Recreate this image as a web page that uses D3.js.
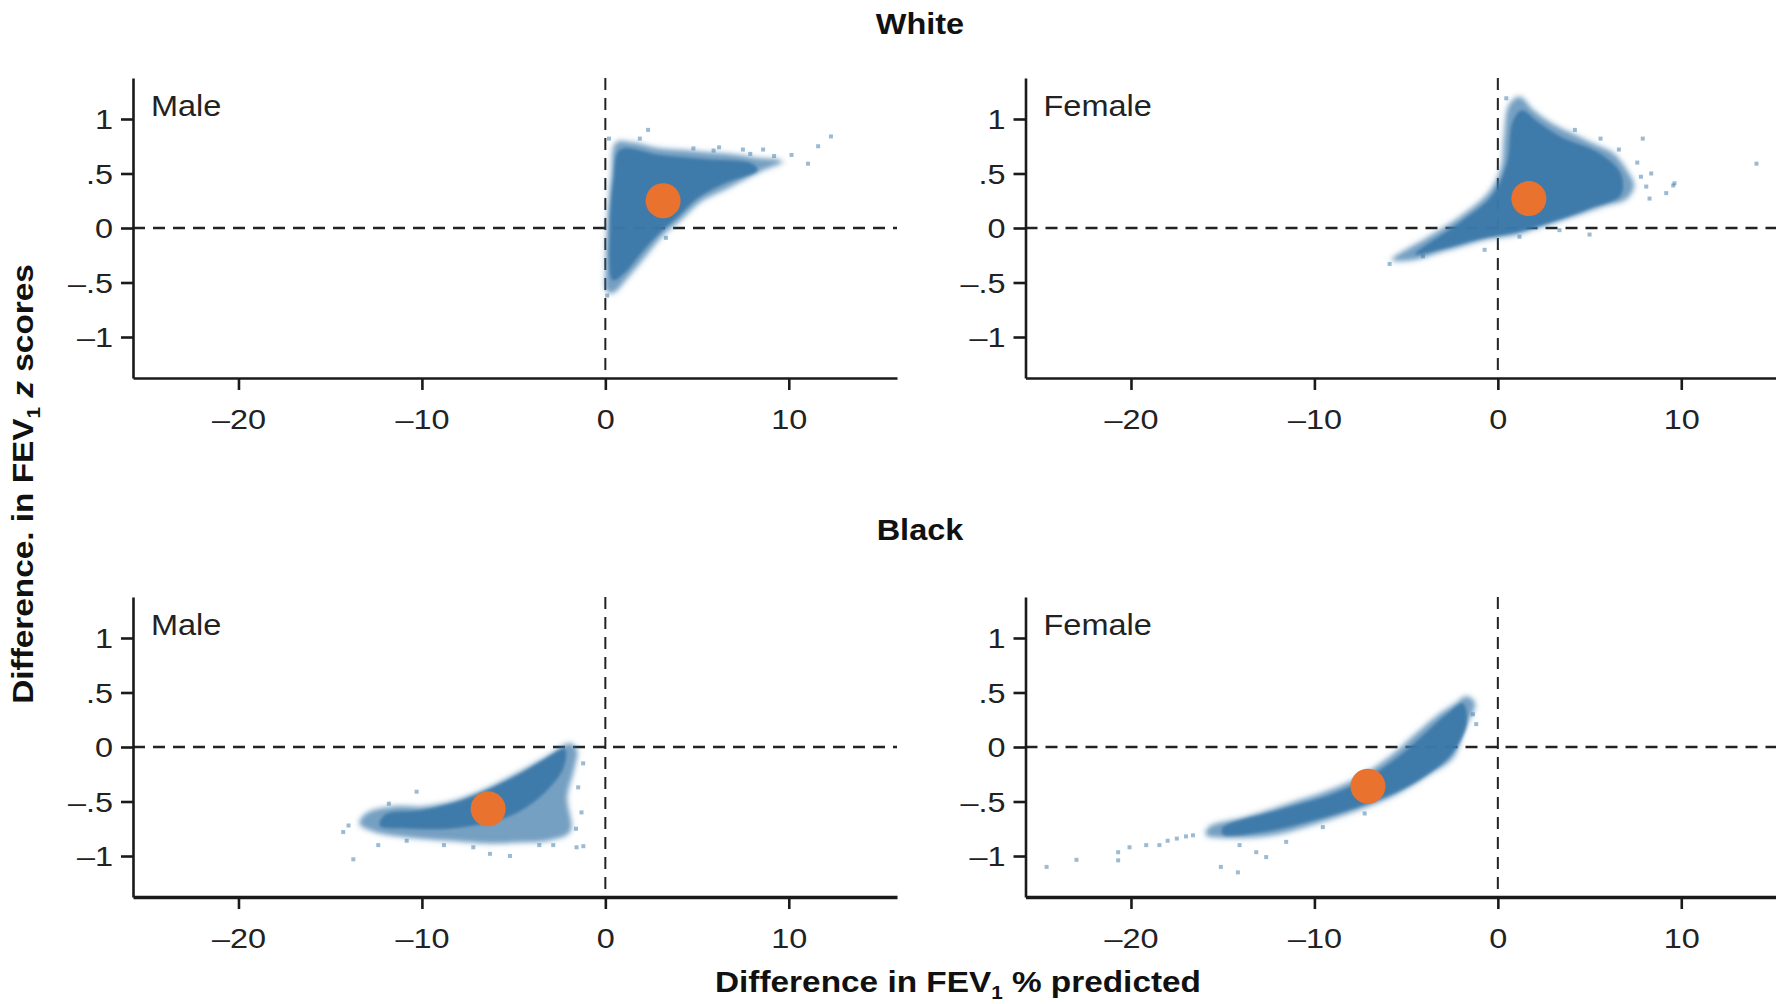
<!DOCTYPE html>
<html>
<head>
<meta charset="utf-8">
<script src="https://cdn.jsdelivr.net/npm/d3@7"></script>
<style>
  body { margin: 0; background: #fff; }
  svg { display: block; font-family: "Liberation Sans", Arial, sans-serif; }
  .axis path, .axis line { stroke: #1a1a1a; stroke-width: 2.6; }
  .axis.bottom-row path { stroke-width: 3.4; }
  .axis text { font-size: 27px; fill: #222; }
  .heading { font-size: 29px; font-weight: bold; fill: #111; }
  .panel-label { font-size: 29px; fill: #222; }
  .axis-label { font-size: 29px; font-weight: bold; fill: #111; }
</style>
</head>
<body>
<svg width="1776" height="1004"></svg>
<script>
// ---- data ----
const groups = ['White', 'Black'];
const sexes = ['Male', 'Female'];
const xTicks = [-20, -10, 0, 10];
const xTickLabels = ['\u201320', '\u201310', '0', '10'];
const yTicks = [-1, -0.5, 0, 0.5, 1];
const yTickLabels = ['\u20131', '\u2013.5', '0', '.5', '1'];

// mean difference (x = % predicted, y = z score)
const meanWhiteMale = [3.15, 0.25];
const meanWhiteFemale = [1.69, 0.27];
const meanBlackMale = [-6.39, -0.567];
const meanBlackFemale = [-7.08, -0.36];

// outline of each cloud
const hullWhiteMale = [[0.6,0.78],[1.5,0.78],[2.8,0.73],[4.2,0.71],[5.5,0.69],[7,0.67],[8.2,0.64],[9.6,0.61],
  [8.4,0.52],[6.8,0.38],[5.15,0.24],[4.06,0.07],[3.15,-0.06],[2.06,-0.28],[1.16,-0.46],[0.43,-0.59],[0.1,-0.58],
  [0.05,-0.34],[0.12,0.03],[0.35,0.49]];
const hullWhiteFemale = [[-5.72,-0.29],[-3.72,-0.08],[-1.9,0.12],[-0.45,0.33],[0.19,0.55],[0.37,0.85],[0.64,1.13],
  [1.18,1.2],[1.91,1.08],[3.0,0.95],[4.09,0.86],[5.19,0.77],[6.28,0.68],[7.0,0.53],[7.4,0.39],[7.0,0.27],
  [5.9,0.21],[4.82,0.15],[3.18,0.058],[2.09,0.0],[0.82,-0.064],[-0.45,-0.095],[-1.9,-0.16],[-3.18,-0.22],[-4.63,-0.29]];
const hullBlackMale = [[-1.93,0.03],[-3.2,-0.094],[-4.84,-0.246],[-6.47,-0.384],[-8.1,-0.49],[-9.93,-0.55],
  [-11.56,-0.55],[-13.0,-0.61],[-13.38,-0.70],[-12.65,-0.77],[-10.47,-0.83],[-8.1,-0.86],[-6.3,-0.88],
  [-4.48,-0.87],[-3.02,-0.85],[-1.93,-0.77],[-2.11,-0.46],[-1.75,-0.216],[-1.57,-0.03]];
const hullBlackFemale = [[-15.9,-0.80],[-15.72,-0.736],[-13.71,-0.644],[-11.35,-0.52],[-9.18,-0.40],[-7.55,-0.277],
  [-5.9,-0.094],[-4.45,0.12],[-3.18,0.30],[-2.27,0.40],[-1.72,0.46],[-1.27,0.40],[-1.9,0.15],[-2.45,-0.094],
  [-3.73,-0.246],[-5.54,-0.43],[-7.72,-0.58],[-9.9,-0.70],[-12.08,-0.80],[-14.26,-0.83]];

// densest core of each cloud
const coreWhiteMale = [[0.8,0.72],[3,0.67],[5.5,0.63],[8,0.59],[8.3,0.53],[6.5,0.41],[5,0.27],[4,0.11],[3,-0.04],
  [2,-0.22],[1,-0.42],[0.4,-0.48],[0.25,0],[0.45,0.45]];
const coreWhiteFemale = [[-4.5,-0.24],[-2,0.06],[-0.3,0.3],[0.5,0.6],[0.8,0.97],[1.3,1.08],[2.2,0.97],[3.5,0.83],
  [5.5,0.69],[6.7,0.5],[6.7,0.3],[5,0.18],[3,0.06],[1,-0.04],[-1,-0.1],[-3,-0.19]];
const coreBlackMale = [[-12,-0.62],[-10,-0.58],[-8,-0.5],[-6.5,-0.4],[-4.8,-0.26],[-3.2,-0.1],[-2.2,-0.02],
  [-2.3,-0.2],[-3.5,-0.45],[-5,-0.62],[-6.5,-0.7],[-8.5,-0.75],[-10.5,-0.75],[-12.3,-0.72]];
const coreBlackFemale = [[-15,-0.74],[-12,-0.58],[-9,-0.43],[-7.3,-0.3],[-5.5,-0.1],[-4,0.12],[-2.8,0.3],
  [-1.9,0.4],[-1.7,0.2],[-2.6,-0.08],[-3.9,-0.26],[-5.6,-0.42],[-7.8,-0.56],[-10,-0.67],[-12.5,-0.77],[-15,-0.8]];

// scattered single observations outside the dense part
const sparseWhiteMale = [[2.33,0.9],[1.88,0.82],[7.5,0.72],[8.6,0.72],[10.15,0.67],[11.05,0.59],[11.6,0.75],
  [12.3,0.84],[6.2,0.74],[9.2,0.66],[0.1,-0.62],[3.3,-0.09],[4.8,0.73],[5.9,0.71],[7.9,0.68],[0.2,0.82]];
const sparseWhiteFemale = [[7.9,0.82],[9.63,0.41],[9.18,0.32],[8.27,0.27],[8.09,0.38],[8.36,0.5],[9.56,0.39],
  [14.1,0.59],[-4.08,-0.26],[-0.72,-0.2],[1.18,-0.08],[3.36,-0.02],[5.0,-0.06],[0.46,1.19],[-5.9,-0.33],
  [6.6,0.72],[5.6,0.82],[7.6,0.6],[7.8,0.47],[4.2,0.9]];
const sparseBlackMale = [[-13.74,-1.03],[-14.29,-0.78],[-5.2,-1.0],[-1.57,-0.92],[-1.2,-0.91],[-10.29,-0.41],
  [-12.38,-0.9],[-10.83,-0.86],[-7.2,-0.92],[-6.29,-0.98],[-1.48,-0.37],[-1.21,-0.15],[-2.84,-0.9],
  [-14.0,-0.72],[-11.8,-0.52],[-1.3,-0.6],[-1.6,-0.75],[-3.6,-0.9],[-8.8,-0.9]];
const sparseBlackFemale = [[-16.62,-0.81],[-17.5,-0.84],[-18.45,-0.90],[-19.17,-0.90],[-20.08,-0.92],
  [-20.7,-0.965],[-20.7,-1.04],[-22.97,-1.035],[-24.6,-1.10],[-15.1,-1.10],[-14.17,-1.15],[-14.08,-0.90],
  [-13.17,-0.965],[-12.63,-1.01],[-11.54,-0.87],[-7.26,-0.61],[-9.54,-0.735],[-1.36,0.30],[-1.18,0.21],
  [-17.0,-0.82],[-18.0,-0.86]];

const xDomain = [-25.75, 15.9];
const yDomain = [-1.376, 1.376];

// ---- layout ----
const svg = d3.select('svg');
const panelLefts = [133, 1025.5];
const panelTops = [78, 597];
const headingY = [34, 540];
const innerWidth = 764;
const innerHeight = 300;
const blue = '#3a77a8';
const orange = '#e9722e';

const panels = [
  { row: 0, col: 0, mean: meanWhiteMale, hull: hullWhiteMale, core: coreWhiteMale, sparse: sparseWhiteMale },
  { row: 0, col: 1, mean: meanWhiteFemale, hull: hullWhiteFemale, core: coreWhiteFemale, sparse: sparseWhiteFemale },
  { row: 1, col: 0, mean: meanBlackMale, hull: hullBlackMale, core: coreBlackMale, sparse: sparseBlackMale },
  { row: 1, col: 1, mean: meanBlackFemale, hull: hullBlackFemale, core: coreBlackFemale, sparse: sparseBlackFemale }
];

// the print uses a wider face than Arial, so widen text a little
const widen = (sel, k) => sel.each(function () {
  const len = this.getComputedTextLength();
  d3.select(this).attr('textLength', len * k).attr('lengthAdjust', 'spacingAndGlyphs');
});

const defs = svg.append('defs');
defs.append('filter').attr('id', 'soft')
  .append('feGaussianBlur').attr('stdDeviation', 1.5);
defs.append('filter').attr('id', 'fuzz')
  .append('feGaussianBlur').attr('stdDeviation', 2.4);

const xscale = d3.scaleLinear().domain(xDomain).range([0, innerWidth]);
const yscale = d3.scaleLinear().domain(yDomain).range([innerHeight, 0]);

const line = d3.line()
  .x(d => xscale(d[0]))
  .y(d => yscale(d[1]))
  .curve(d3.curveCatmullRomClosed.alpha(0.5));

panels.forEach(p => {
  const g = svg.append('g')
    .attr('transform', `translate(${panelLefts[p.col]},${panelTops[p.row]})`);

  // reference lines at zero
  g.append('line')
    .attr('x1', 0).attr('x2', innerWidth)
    .attr('y1', yscale(0)).attr('y2', yscale(0))
    .attr('stroke', '#222').attr('stroke-width', 2.5)
    .attr('stroke-dasharray', '12,8');
  g.append('line')
    .attr('x1', xscale(0)).attr('x2', xscale(0))
    .attr('y1', 0).attr('y2', innerHeight)
    .attr('stroke', '#222').attr('stroke-width', 2)
    .attr('stroke-dasharray', '12,8');

  // the cloud
  g.append('path').datum(p.hull)
    .attr('d', line)
    .attr('fill', blue).attr('fill-opacity', 0.7)
    .attr('stroke', blue).attr('stroke-opacity', 0.4)
    .attr('stroke-width', 5).attr('stroke-dasharray', '2,3')
    .attr('filter', 'url(#fuzz)');
  g.append('path').datum(p.core)
    .attr('d', line)
    .attr('fill', blue).attr('fill-opacity', 0.92)
    .attr('filter', 'url(#soft)');

  g.selectAll('rect.sparse').data(p.sparse)
    .enter().append('rect')
      .attr('class', 'sparse')
      .attr('x', d => xscale(d[0]) - 2)
      .attr('y', d => yscale(d[1]) - 2)
      .attr('width', 4).attr('height', 4)
      .attr('fill', blue).attr('fill-opacity', 0.5);

  // mean
  g.append('circle')
    .attr('cx', xscale(p.mean[0]))
    .attr('cy', yscale(p.mean[1]))
    .attr('r', 17.5)
    .attr('fill', orange);

  // axes
  const yAxisG = g.append('g').attr('class', 'axis')
    .call(d3.axisLeft(yscale).tickValues(yTicks)
      .tickFormat((d, i) => yTickLabels[i])
      .tickSize(12).tickSizeOuter(0).tickPadding(8));
  widen(yAxisG.selectAll('text').attr('dy', '0.36em'), 1.2);

  const xAxisG = g.append('g').attr('class', p.row ? 'axis bottom-row' : 'axis')
    .attr('transform', `translate(0,${innerHeight})`)
    .call(d3.axisBottom(xscale).tickValues(xTicks)
      .tickFormat((d, i) => xTickLabels[i])
      .tickSize(12).tickSizeOuter(0).tickPadding(20));
  widen(xAxisG.selectAll('text'), 1.2);
  g.selectAll('.axis .domain').attr('fill', 'none');

  widen(g.append('text')
    .attr('class', 'panel-label')
    .attr('x', 18).attr('y', 38)
    .text(sexes[p.col]), 1.12);
});

// row headings
groups.forEach((name, i) => {
  widen(svg.append('text')
    .attr('class', 'heading')
    .attr('text-anchor', 'middle')
    .attr('x', 920).attr('y', headingY[i])
    .text(name), 1.12);
});

// x axis label
const xLab = svg.append('text')
  .attr('class', 'axis-label')
  .attr('text-anchor', 'middle')
  .attr('x', 958).attr('y', 992);
xLab.append('tspan').text('Difference in FEV');
xLab.append('tspan').attr('font-size', 18).attr('dy', 7).text('1');
xLab.append('tspan').attr('dy', -7).text(' % predicted');
widen(xLab, 1.15);

// y axis label
const yLab = svg.append('text')
  .attr('class', 'axis-label')
  .attr('text-anchor', 'middle')
  .attr('transform', 'rotate(-90)')
  .attr('x', -484).attr('y', 33);
yLab.append('tspan').text('Difference. in FEV');
yLab.append('tspan').attr('font-size', 18).attr('dy', 7).text('1');
yLab.append('tspan').attr('dy', -7).text(' ');
yLab.append('tspan').attr('font-style', 'italic').text('z');
yLab.append('tspan').text(' scores');
widen(yLab, 1.15);
</script>
</body>
</html>
